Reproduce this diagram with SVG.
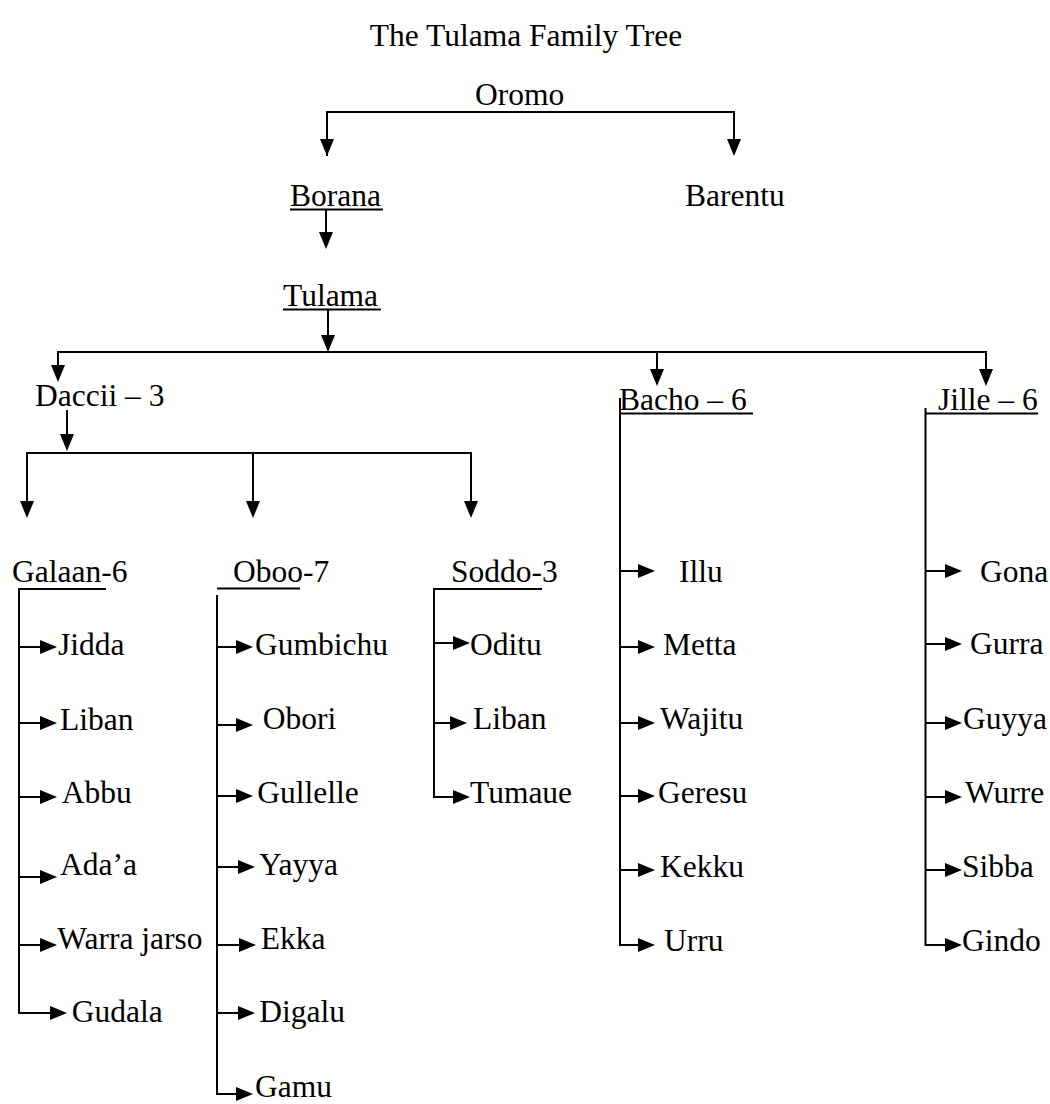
<svg xmlns="http://www.w3.org/2000/svg" width="1050" height="1104" viewBox="0 0 1050 1104">
<style>
text{font-family:"Liberation Serif","Times New Roman",serif;font-size:31.5px;fill:#000}
.c{fill:none;stroke:#000;stroke-width:2}
.u{stroke:#000;stroke-width:2}
</style>
<defs>
<marker id="ah" markerUnits="userSpaceOnUse" markerWidth="17" markerHeight="14" viewBox="0 0 17 14" refX="3" refY="7" orient="auto">
<path d="M0,0 L17,7 L0,14 z" fill="#000"/>
</marker>
</defs>
<rect width="1050" height="1104" fill="#fff"/>
<g id="title"><text x="526" y="46" text-anchor="middle">The Tulama Family Tree</text></g>
<g id="connectors">
<path class="c" d="M327,156 V112 H734 V142" marker-end="url(#ah)"/>
<path class="c" d="M327,112 V142" marker-end="url(#ah)"/>
<path class="c" d="M326,210 V235" marker-end="url(#ah)"/>
<path class="c" d="M328,310 V338" marker-end="url(#ah)"/>
<path class="c" d="M58,368 V352 H986 V372" marker-end="url(#ah)"/>
<path class="c" d="M58,352 V368" marker-end="url(#ah)"/>
<path class="c" d="M657,352 V372" marker-end="url(#ah)"/>
<path class="c" d="M67,410 V437" marker-end="url(#ah)"/>
<path class="c" d="M27,504 V453 H471 V504" marker-end="url(#ah)"/>
<path class="c" d="M27,453 V504" marker-end="url(#ah)"/>
<path class="c" d="M253,453 V504" marker-end="url(#ah)"/>
<!-- Galaan -->
<path class="c" d="M106,589 H19 V1013 H53" marker-end="url(#ah)"/>
<path class="c" d="M19,647 H43" marker-end="url(#ah)"/>
<path class="c" d="M19,723 H43" marker-end="url(#ah)"/>
<path class="c" d="M19,797 H43" marker-end="url(#ah)"/>
<path class="c" d="M19,877 H43" marker-end="url(#ah)"/>
<path class="c" d="M19,945 H43" marker-end="url(#ah)"/>
<!-- Oboo -->
<path class="c" d="M217,595 V1094 H239" marker-end="url(#ah)"/>
<path class="c" d="M217,647 H239" marker-end="url(#ah)"/>
<path class="c" d="M217,725 H239" marker-end="url(#ah)"/>
<path class="c" d="M217,796 H239" marker-end="url(#ah)"/>
<path class="c" d="M217,867 H241" marker-end="url(#ah)"/>
<path class="c" d="M217,945 H242" marker-end="url(#ah)"/>
<path class="c" d="M217,1013 H241" marker-end="url(#ah)"/>
<!-- Soddo -->
<path class="c" d="M542,589 H434 V797 H456" marker-end="url(#ah)"/>
<path class="c" d="M434,643 H456" marker-end="url(#ah)"/>
<path class="c" d="M434,723 H453" marker-end="url(#ah)"/>
<!-- Bacho -->
<path class="c" d="M620,398 V945 H641" marker-end="url(#ah)"/>
<path class="c" d="M620,571 H641" marker-end="url(#ah)"/>
<path class="c" d="M620,647 H641" marker-end="url(#ah)"/>
<path class="c" d="M620,723 H641" marker-end="url(#ah)"/>
<path class="c" d="M620,796 H641" marker-end="url(#ah)"/>
<path class="c" d="M620,870 H641" marker-end="url(#ah)"/>
<!-- Jille -->
<path class="c" d="M925.5,408 V945 H948" marker-end="url(#ah)"/>
<path class="c" d="M925.5,571 H948" marker-end="url(#ah)"/>
<path class="c" d="M925.5,644 H948" marker-end="url(#ah)"/>
<path class="c" d="M925.5,723 H948" marker-end="url(#ah)"/>
<path class="c" d="M925.5,797 H948" marker-end="url(#ah)"/>
<path class="c" d="M925.5,870 H948" marker-end="url(#ah)"/>
</g>
<g id="oromo"><text x="475" y="105">Oromo</text></g>
<g id="borana"><text x="290" y="206">Borana</text><line class="u" x1="290" y1="209.5" x2="383" y2="209.5"/></g>
<g id="barentu"><text x="685" y="206">Barentu</text></g>
<g id="tulama"><text x="283" y="306">Tulama</text><line class="u" x1="283" y1="309.5" x2="381" y2="309.5"/></g>
<g id="daccii"><text x="35" y="406">Daccii – 3</text></g>
<g id="bacho"><text x="619" y="410">Bacho – 6</text><line class="u" x1="620" y1="413.5" x2="753" y2="413.5"/></g>
<g id="jille"><text x="938" y="410">Jille – 6</text><line class="u" x1="925.5" y1="413.5" x2="1038" y2="413.5"/></g>
<g id="galaan"><text x="12" y="582">Galaan-6</text></g>
<g id="oboo"><text x="233" y="582">Oboo-7</text><line class="u" x1="217" y1="588.5" x2="300" y2="588.5"/></g>
<g id="soddo"><text x="451" y="582">Soddo-3</text></g>
<g id="jidda"><text x="58" y="655">Jidda</text></g>
<g id="liban1"><text x="60" y="730">Liban</text></g>
<g id="abbu"><text x="61.7" y="803">Abbu</text></g>
<g id="adaa"><text x="60" y="875">Ada’a</text></g>
<g id="warrajarso"><text x="57.3" y="949">Warra jarso</text></g>
<g id="gudala"><text x="71.7" y="1022">Gudala</text></g>
<g id="gumbichu"><text x="255" y="655">Gumbichu</text></g>
<g id="obori"><text x="262.7" y="729">Obori</text></g>
<g id="gullelle"><text x="257.3" y="803">Gullelle</text></g>
<g id="yayya"><text x="259" y="875">Yayya</text></g>
<g id="ekka"><text x="260.7" y="949">Ekka</text></g>
<g id="digalu"><text x="259.3" y="1022">Digalu</text></g>
<g id="gamu"><text x="255" y="1097">Gamu</text></g>
<g id="oditu"><text x="470" y="655">Oditu</text></g>
<g id="liban2"><text x="473" y="729">Liban</text></g>
<g id="tumaue"><text x="470" y="803">Tumaue</text></g>
<g id="illu"><text x="679" y="582">Illu</text></g>
<g id="metta"><text x="663" y="655">Metta</text></g>
<g id="wajitu"><text x="660" y="729">Wajitu</text></g>
<g id="geresu"><text x="658" y="803">Geresu</text></g>
<g id="kekku"><text x="660" y="877">Kekku</text></g>
<g id="urru"><text x="664" y="951">Urru</text></g>
<g id="gona"><text x="980" y="582">Gona</text></g>
<g id="gurra"><text x="970" y="654">Gurra</text></g>
<g id="guyya"><text x="963" y="729">Guyya</text></g>
<g id="wurre"><text x="965" y="803">Wurre</text></g>
<g id="sibba"><text x="962" y="877">Sibba</text></g>
<g id="gindo"><text x="962" y="951">Gindo</text></g>
</svg>
